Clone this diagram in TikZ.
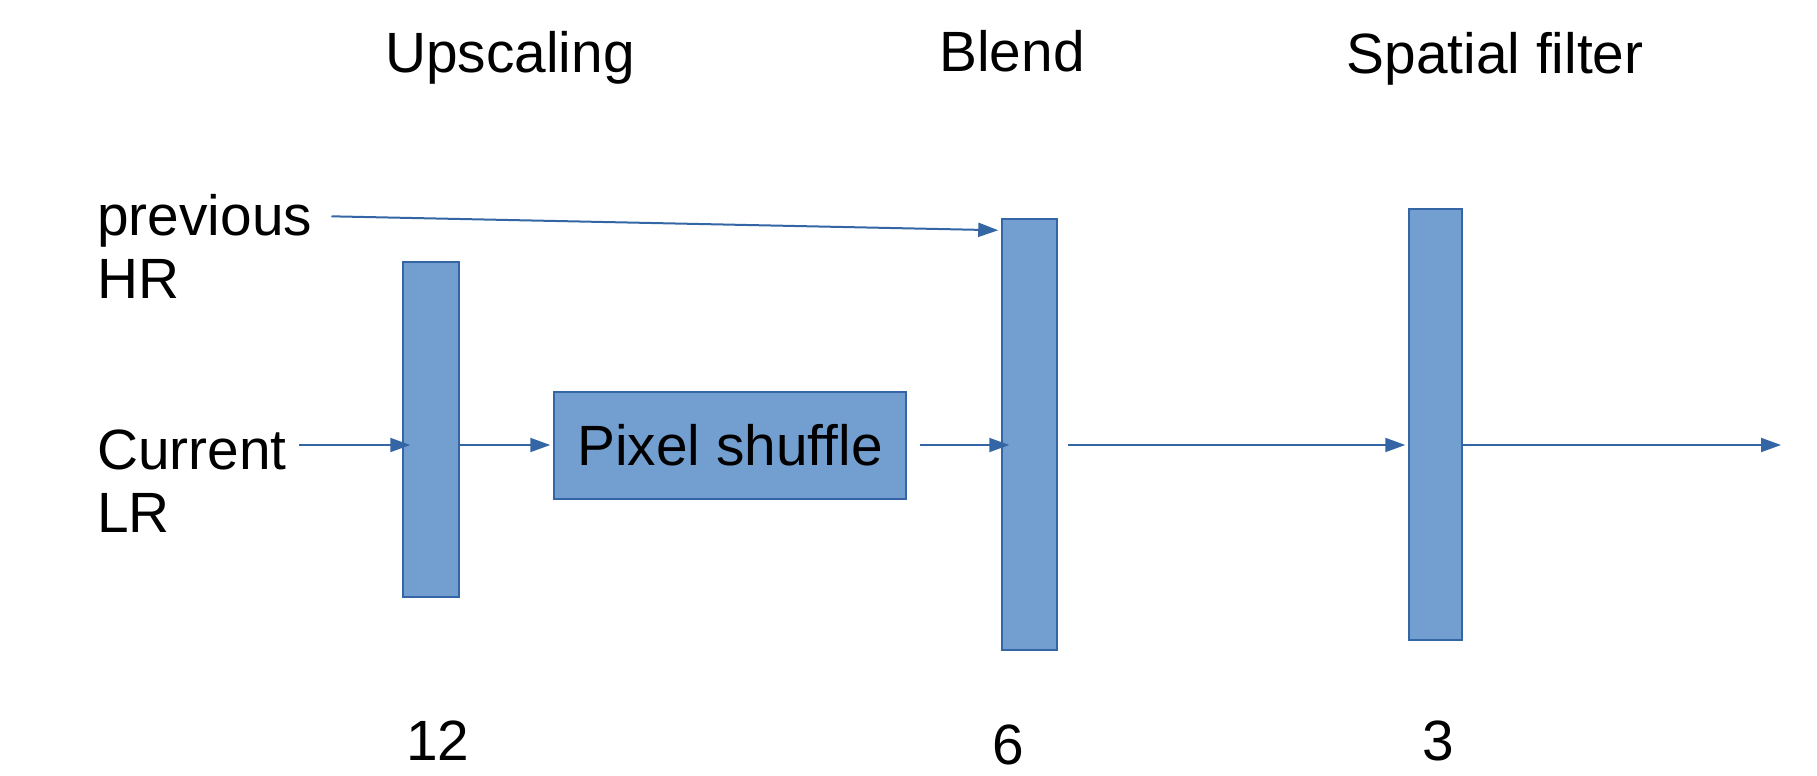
\documentclass[tikz,border=0pt]{standalone}
\usepackage{fontspec}
\setmainfont{Liberation Sans}
\usetikzlibrary{arrows.meta}
\definecolor{barfill}{HTML}{729FCF}
\definecolor{barline}{HTML}{3465A4}
\begin{document}
\begin{tikzpicture}[x=0.5pt,y=-0.5pt,
  font=\fontsize{28.4pt}{31.5pt}\selectfont,
  bar/.style={draw=barline, fill=barfill, line width=0.75pt, inner sep=0pt},
  lbl/.style={inner sep=0pt, anchor=base},
  side/.style={inner sep=0pt, anchor=base west},
  arr/.style={draw=barline, line width=1pt, -{Triangle[length=10pt,width=7pt]}}]
\useasboundingbox (0,0) rectangle (1817,776);
% column titles
\node[lbl] (tup) at (510,72) {Upscaling};
\node[lbl] (tbl) at (1012,71) {Blend};
\node[lbl] (tsf) at (1495,73) {Spatial filter};
% side labels
\node[side] (prev) at (97,235) {previous};
\node[side] (hr) at (97,298) {HR};
\node[side] (cur) at (97,469) {Current};
\node[side] (lr) at (97,532) {LR};
% bars and box
\node[bar, minimum width=28pt, minimum height=167.5pt] (b1) at (431,429.5) {};
\node[bar, minimum width=176pt, minimum height=53.5pt] (ps) at (730,445.5) {Pixel shuffle};
\node[bar, minimum width=27.5pt, minimum height=215.5pt] (b2) at (1029.5,434.5) {};
\node[bar, minimum width=26.5pt, minimum height=215.5pt] (b3) at (1435.5,424.5) {};
% numbers
\node[lbl] (n12) at (438,760) {12};
\node[lbl] (n6) at (1008,764) {6};
\node[lbl] (n3) at (1438,760) {3};
% connectors
\coordinate (r) at (0,445);
\coordinate (out) at (1781,445);
\draw[arr, shorten <=6pt, shorten >=-4pt] (cur.east |- r) -- (b1.west |- r);
\draw[arr, shorten >=1.5pt] (b1.east |- r) -- (ps.west |- r);
\draw[arr, shorten <=6.5pt, shorten >=-4pt] (ps.east |- r) -- (b2.west |- r);
\draw[arr, shorten <=5pt, shorten >=1.5pt] (b2.east |- r) -- (b3.west |- r);
\draw[arr] (b3.east |- r) -- (out);
\draw[arr] ([xshift=9.5pt,yshift=2pt]prev.east) -- ([xshift=-1.5pt,yshift=-6pt]b2.north west);
\end{tikzpicture}
\end{document}
